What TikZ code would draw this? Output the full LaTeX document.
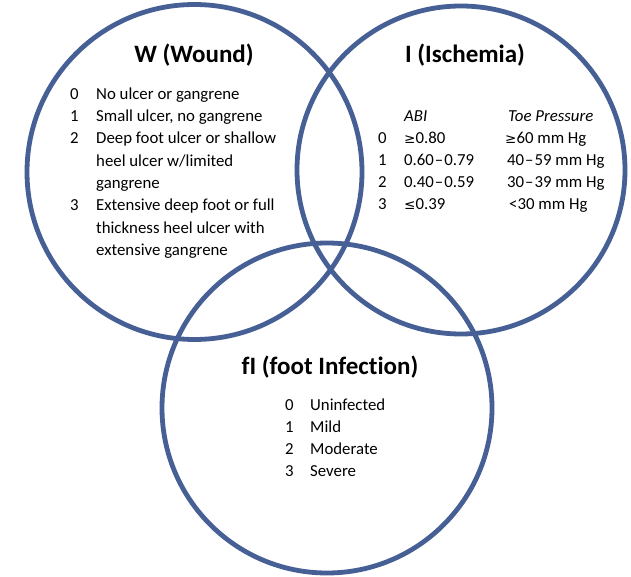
\documentclass[tikz,border=0pt]{standalone}
\usepackage{fontspec}
\setmainfont{Carlito}[Ligatures=NoCommon]
\newfontfamily\symfont{DejaVu Sans}
\definecolor{ringblue}{RGB}{70,96,150}
\begin{document}
\begin{tikzpicture}[x=1pt,y=-1pt,
  ring/.style={draw=ringblue,line width=4.8pt},
  title/.style={font=\fontsize{25}{30}\selectfont\bfseries,anchor=center,inner sep=0pt},
  txt/.style={font=\fontsize{16.8}{22.2}\selectfont,anchor=base west,inner sep=0pt},
  num/.style={font=\fontsize{16.8}{22.2}\selectfont,anchor=base west,inner sep=0pt}]
\useasboundingbox (0,0) rectangle (631,577);
\fill[white] (0,0) rectangle (631,577);
% circles
\draw[ring] (194.5,172) circle[radius=167.5];
\draw[ring] (461,170) circle[radius=164];
\draw[ring] (327,408) circle[radius=165];
% W
\node[title] (wt) at (194,55) {W (Wound)};
\node[num] (w0) at (70,100) {0};
\node[txt] (w0t) at (96,100) {No ulcer or gangrene};
\node[num] (w1) at (70,122) {1};
\node[txt] (w1t) at (96,122) {Small ulcer, no gangrene};
\node[num] (w2) at (70,144) {2};
\node[txt,align=left,anchor=north west] (w2t) at (96,132) {Deep foot ulcer or shallow\\heel ulcer w/limited\\gangrene};
\node[num] (w3) at (70,211) {3};
\node[txt,align=left,anchor=north west] (w3t) at (96,199) {Extensive deep foot or full\\thickness heel ulcer with\\extensive gangrene};
% I
\node[title] (it) at (465,55) {I (Ischemia)};
\node[txt,font=\fontsize{16.8}{22.2}\selectfont\itshape] (iabi) at (404,122) {ABI};
\node[txt,font=\fontsize{16.8}{22.2}\selectfont\itshape] (itp) at (508,122) {Toe Pressure};
\node[num] (i0) at (378,144) {0};
\node[txt] (i0a) at (404,144) {{\symfont\fontsize{13.5}{14}\selectfont ≥}0.80};
\node[txt] (i0b) at (505,144) {{\symfont\fontsize{13.5}{14}\selectfont ≥}60 mm Hg};
\node[num] (i1) at (378,166) {1};
\node[txt] (i1a) at (404,166) {0.60\kern1pt–\kern1pt0.79};
\node[txt] (i1b) at (507,166) {40\kern1pt–\kern1pt59 mm Hg};
\node[num] (i2) at (378,188) {2};
\node[txt] (i2a) at (404,188) {0.40\kern1pt–\kern1pt0.59};
\node[txt] (i2b) at (507,188) {30\kern1pt–\kern1pt39 mm Hg};
\node[num] (i3) at (378,210) {3};
\node[txt] (i3a) at (404,210) {{\symfont\fontsize{13.5}{14}\selectfont ≤}0.39};
\node[txt] (i3b) at (509,210) {<30 mm Hg};
% fI
\node[title] (ft) at (330,367) {fI (foot Infection)};
\node[num] (f0) at (285,410) {0};
\node[txt] (f0t) at (310,410) {Uninfected};
\node[num] (f1) at (285,432) {1};
\node[txt] (f1t) at (310,432) {Mild};
\node[num] (f2) at (285,454) {2};
\node[txt] (f2t) at (310,454) {Moderate};
\node[num] (f3) at (285,476) {3};
\node[txt] (f3t) at (310,476) {Severe};
\end{tikzpicture}
\end{document}
